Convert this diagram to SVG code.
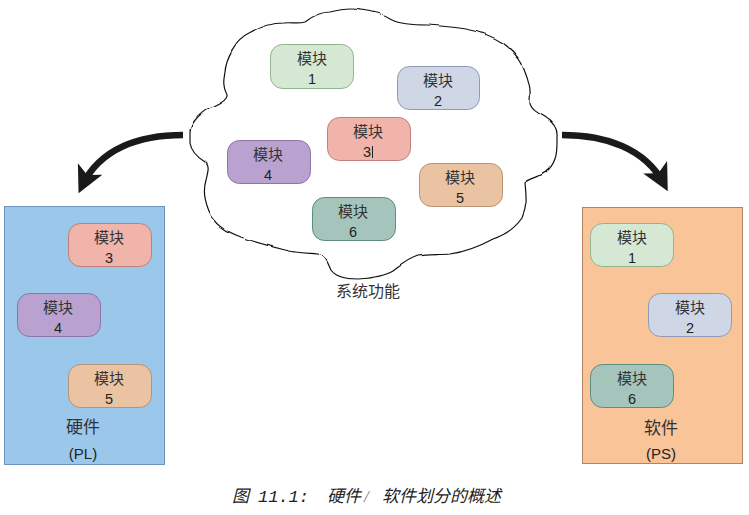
<svg xmlns="http://www.w3.org/2000/svg" width="749" height="515" viewBox="0 0 749 515">
<defs>
<style>
.t{font-family:"Noto Sans CJK SC","Noto Sans",sans-serif;font-size:15px;fill:#333;text-anchor:middle}
.n{font-family:"Liberation Sans",Arial,sans-serif;font-size:14.5px;fill:#222;text-anchor:middle}
.lbl{font-family:"Noto Sans CJK SC",sans-serif;font-size:17px;fill:#333;text-anchor:middle}
.sub{font-family:"Liberation Sans",Arial,sans-serif;font-size:15px;fill:#222;text-anchor:middle}
.cap{font-family:"Liberation Serif","Noto Sans CJK SC",serif;font-size:17px;font-style:italic;fill:#222}
.arr{fill:none;stroke:#1a1a1a;stroke-width:6.5}
</style>
<filter id="rough" x="-5%" y="-5%" width="110%" height="110%">
<feTurbulence type="fractalNoise" baseFrequency="0.04" numOctaves="2" seed="3"/>
<feDisplacementMap in="SourceGraphic" scale="3" xChannelSelector="R" yChannelSelector="G"/>
</filter>
<marker id="ah" viewBox="0 0 10 10" refX="7" refY="5" markerWidth="27" markerHeight="27" markerUnits="userSpaceOnUse" orient="auto">
<path d="M0,0 L10,5 L0,10 L2.5,5 Z" fill="#1a1a1a"/>
</marker>
</defs>

<g id="cloud">
<path filter="url(#rough)" fill="#fff" stroke="#111" stroke-width="1.2" d="M190,133 C190,122 203,110 213,107 C222,103 228,99 227,95 C222,86 224,78 225,72 C226,60 235,40 250,33 C262,26 272,23 283,23 C292,22 298,24 305,22 C314,15 322,12 330,12 C342,9 352,8 360,10 C372,11 382,14 392,20 C400,24 410,25 428,25 C442,26 455,27 466,29 C478,31 490,35 503,43 C515,52 522,62 525,72 C529,82 531,92 530,100 C529,108 536,112 545,117 C553,122 558,128 557,137 C557,148 558,160 548,170 C540,178 530,178 525,183 C526,195 528,205 522,218 C515,228 505,235 493,239 C480,246 465,252 450,254 C438,255 428,254 418,256 C408,259 400,266 393,271 C385,276 372,278 358,279 C345,279 335,276 331,270 C327,262 326,256 318,254 C305,253 295,253 285,250 C270,246 255,242 240,237 C226,232 214,224 209,212 C204,200 203,190 206,180 C208,172 210,166 205,162 C197,157 191,150 190,143 Z"/>
<text class="lbl" x="368" y="297" style="font-size:16px">系统功能</text>
</g>

<g id="hw">
<rect x="4.5" y="206.5" width="160" height="258" fill="#9bc7ea" stroke="#6f94bb"/>
<text class="lbl" x="83" y="433">硬件</text>
<text class="sub" x="83" y="459">(PL)</text>
</g>
<g id="sw">
<rect x="582.5" y="207.5" width="160" height="256" fill="#f8c498" stroke="#b2845f"/>
<text class="lbl" x="661" y="434">软件</text>
<text class="sub" x="661" y="459">(PS)</text>
</g>

<g id="c-m1">
<rect x="270.5" y="44.5" width="83" height="44" rx="12" fill="#d5e8d4" stroke="#92b58f"/>
<text class="t" x="312" y="64">模块</text><text class="n" x="312" y="84">1</text>
</g>
<g id="c-m2">
<rect x="397.5" y="66.5" width="82" height="43" rx="12" fill="#cfd6e6" stroke="#8f9bb5"/>
<text class="t" x="438" y="86">模块</text><text class="n" x="438" y="106">2</text>
</g>
<g id="c-m3">
<rect x="327.5" y="117.5" width="83" height="43" rx="12" fill="#f0b4aa" stroke="#c07f78"/>
<text class="t" x="368" y="137">模块</text><text class="n" x="367" y="157">3</text>
<line x1="372.5" y1="146" x2="372.5" y2="158" stroke="#222" stroke-width="1"/>
</g>
<g id="c-m4">
<rect x="227.5" y="140.5" width="83" height="43" rx="12" fill="#b9a2d0" stroke="#8e73a6"/>
<text class="t" x="268" y="160">模块</text><text class="n" x="268" y="180">4</text>
</g>
<g id="c-m5">
<rect x="419.5" y="163.5" width="83" height="43" rx="12" fill="#eac3a2" stroke="#b89373"/>
<text class="t" x="460" y="183">模块</text><text class="n" x="460" y="203">5</text>
</g>
<g id="c-m6">
<rect x="312.5" y="197.5" width="83" height="43" rx="12" fill="#a4c4bc" stroke="#5f8c80"/>
<text class="t" x="353" y="217">模块</text><text class="n" x="353" y="237">6</text>
</g>

<g id="hw-m3">
<rect x="68.5" y="223.5" width="83" height="43" rx="12" fill="#f0b4aa" stroke="#c07f78"/>
<text class="t" x="109" y="243">模块</text><text class="n" x="109" y="263">3</text>
</g>
<g id="hw-m4">
<rect x="17.5" y="293.5" width="83" height="43" rx="12" fill="#b9a2d0" stroke="#8e73a6"/>
<text class="t" x="58" y="313">模块</text><text class="n" x="58" y="333">4</text>
</g>
<g id="hw-m5">
<rect x="68.5" y="364.5" width="83" height="43" rx="12" fill="#eac3a2" stroke="#b89373"/>
<text class="t" x="109" y="384">模块</text><text class="n" x="109" y="404">5</text>
</g>

<g id="sw-m1">
<rect x="590.5" y="223.5" width="83" height="43" rx="12" fill="#d5e8d4" stroke="#92b58f"/>
<text class="t" x="632" y="243">模块</text><text class="n" x="632" y="263">1</text>
</g>
<g id="sw-m2">
<rect x="648.5" y="293.5" width="83" height="43" rx="12" fill="#cfd6e6" stroke="#8f9bb5"/>
<text class="t" x="690" y="313">模块</text><text class="n" x="690" y="333">2</text>
</g>
<g id="sw-m6">
<rect x="590.5" y="364.5" width="83" height="43" rx="12" fill="#a4c4bc" stroke="#5f8c80"/>
<text class="t" x="632" y="384">模块</text><text class="n" x="632" y="404">6</text>
</g>

<g id="connectors">
<path class="arr" d="M183,135 C140,135 100,148 82,186" marker-end="url(#ah)"/>
<path class="arr" d="M562,135 C605,135 645,148 664,184" marker-end="url(#ah)"/>
</g>

<g id="caption">
<text class="cap" x="232" y="502">图</text>
<text class="cap" x="258" y="502" style="font-family:'Liberation Mono',monospace">11.1:</text>
<text class="cap" x="327" y="502">硬件</text>
<text class="cap" x="364" y="502" style="fill:#777">/</text>
<text class="cap" x="382" y="502">软件划分的概述</text>
</g>
</svg>
